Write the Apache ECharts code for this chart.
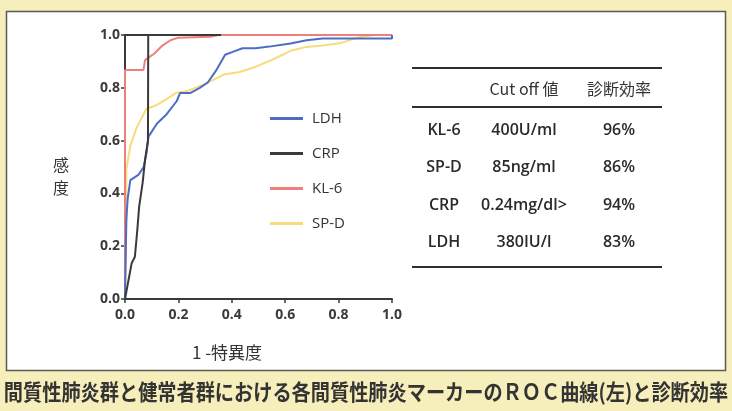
<!DOCTYPE html>
<html><head><meta charset="utf-8">
<script src="https://cdn.jsdelivr.net/npm/echarts@6/dist/echarts.min.js"></script>
<style>html,body{margin:0;padding:0;background:#f6eebb;}#c{width:732px;height:411px;}</style>
</head><body><div id="c"></div>
<script>
// ROC curve data: [1-specificity, sensitivity]
const ldh = [[0,0],[0.005,0.30],[0.01,0.38],[0.02,0.45],[0.05,0.47],[0.07,0.50],[0.08,0.55],[0.088,0.615],[0.12,0.665],[0.156,0.70],[0.194,0.75],[0.206,0.78],[0.244,0.78],[0.28,0.80],[0.31,0.82],[0.344,0.87],[0.375,0.925],[0.406,0.937],[0.44,0.95],[0.49,0.95],[0.54,0.956],[0.62,0.968],[0.68,0.98],[0.74,0.987],[1.0,0.987],[1.0,1.0]];
const crp = [[0,1.0],[0.087,1.0],null,[0,0],[0.025,0.136],[0.037,0.16],[0.046,0.26],[0.053,0.35],[0.066,0.44],[0.075,0.527],[0.086,0.60],[0.087,1.0],[0.36,1.0]];
const kl6 = [[0,0],[0,0.867],[0.069,0.867],[0.075,0.905],[0.11,0.93],[0.14,0.96],[0.17,0.98],[0.2,0.99],[0.32,0.993],[0.35,1.0],[1.0,1.0]];
const spd = [[0,0],[0.005,0.30],[0.005,0.49],[0.02,0.58],[0.044,0.65],[0.08,0.72],[0.12,0.735],[0.16,0.76],[0.19,0.78],[0.24,0.79],[0.3,0.815],[0.37,0.85],[0.43,0.86],[0.49,0.88],[0.56,0.91],[0.62,0.94],[0.68,0.955],[0.74,0.96],[0.81,0.97],[0.87,0.99],[0.93,1.0],[1.0,1.0]];
const seriesNames = ['LDH','CRP','KL-6','SP-D'];
const axisTicks = [0,0.2,0.4,0.6,0.8,1.0];
// table
const tableHeader = ['', 'Cut off 値', '診断効率'];
const tableMarkers = ['KL-6','SP-D','CRP','LDH'];
const tableCutoffs = ['400U/ml','85ng/ml','0.24mg/dl>','380IU/l'];
const tableEfficiency = ['96%','86%','94%','83%'];
const caption = '間質性肺炎群と健常者群における各間質性肺炎マーカーのＲＯＣ曲線(左)と診断効率';

const chart = echarts.init(document.getElementById('c'));
const colors = {'LDH':'#4b6ec3','CRP':'#3a3a3a','KL-6':'#ef7f7c','SP-D':'#f7dc7c'};
const dataMap = {'LDH':ldh,'CRP':crp,'KL-6':kl6,'SP-D':spd};
const font = 'Open Sans, Liberation Sans, sans-serif';
const jp = 'Noto Sans CJK JP, sans-serif';

const graphics = [];
// panel
graphics.push({type:'rect', shape:{x:6.5,y:11.5,width:719,height:359}, style:{fill:'#ffffff', stroke:'#5a5a50', lineWidth:1.5}, z:-10});
// table rules
const tx1 = 412, tx2 = 662;
[68,107,267].forEach(y=>graphics.push({type:'line', shape:{x1:tx1,y1:y,x2:tx2,y2:y}, style:{stroke:'#2e2e2e', lineWidth:2}}));
const colX = [444, 524, 619];
tableHeader.forEach((t,i)=>{ if(t) graphics.push({type:'text', x:colX[i], y:89, style:{text:t, font:'16px '+jp, fill:'#333', align:'center', verticalAlign:'middle'}}); });
const rowY = [130,167,205,242];
tableMarkers.forEach((m,i)=>{
  graphics.push({type:'text', x:colX[0], y:rowY[i], style:{text:m, font:'600 16px '+font, fill:'#2a2a2a', align:'center', verticalAlign:'middle'}});
  graphics.push({type:'text', x:colX[1], y:rowY[i], style:{text:tableCutoffs[i], font:'600 16px '+font, fill:'#2a2a2a', align:'center', verticalAlign:'middle'}});
  graphics.push({type:'text', x:colX[2], y:rowY[i], style:{text:tableEfficiency[i], font:'600 16px '+font, fill:'#2a2a2a', align:'center', verticalAlign:'middle'}});
});
// y axis name
graphics.push({type:'text', x:61, y:176, style:{text:'感\n度', font:'16px '+jp, lineHeight:23, fill:'#333', align:'center', verticalAlign:'middle'}});
// x axis name
graphics.push({type:'text', x:227, y:353, style:{text:'1 -特異度', font:'17px '+jp, fill:'#333', align:'center', verticalAlign:'middle'}});
// caption
graphics.push({type:'text', x:366, y:392, scaleX:0.872, originX:0, originY:0, style:{text:caption, font:'bold 22px '+jp, fill:'#333', align:'center', verticalAlign:'middle'}});

chart.setOption({
  animation:false,
  backgroundColor:'#f6eebb',
  grid:{left:125, right:340, top:35, bottom:112},
  legend:{
    data:seriesNames, orient:'vertical', left:265, top:106, itemWidth:33, itemHeight:3, itemGap:20,
    icon:'rect', textStyle:{fontSize:15, fontFamily:font, color:'#333', padding:[0,0,0,4]}
  },
  xAxis:{type:'value', min:0, max:1, interval:0.2,
    axisLine:{lineStyle:{color:'#3a3a3a', width:2}},
    axisTick:{show:true, length:4, lineStyle:{color:'#3a3a3a', width:1.5}},
    splitLine:{show:false},
    axisLabel:{formatter:v=>v.toFixed(1), fontSize:14, fontWeight:'bold', fontFamily:font, color:'#3a3a3a', margin:9}
  },
  yAxis:{type:'value', min:0, max:1, interval:0.2,
    axisLine:{show:true, lineStyle:{color:'#3a3a3a', width:2}},
    axisTick:{show:true, length:4, lineStyle:{color:'#3a3a3a', width:1.5}},
    splitLine:{show:false},
    axisLabel:{formatter:v=>v.toFixed(1), fontSize:14, fontWeight:'bold', fontFamily:font, color:'#3a3a3a', margin:5}
  },
  series:['SP-D','KL-6','LDH','CRP'].map(n=>({
    name:n, type:'line', data:dataMap[n], showSymbol:false, symbol:'none', connectNulls:false,
    lineStyle:{color:colors[n], width:2}, itemStyle:{color:colors[n]}
  })),
  graphic:graphics
});
</script></body></html>
